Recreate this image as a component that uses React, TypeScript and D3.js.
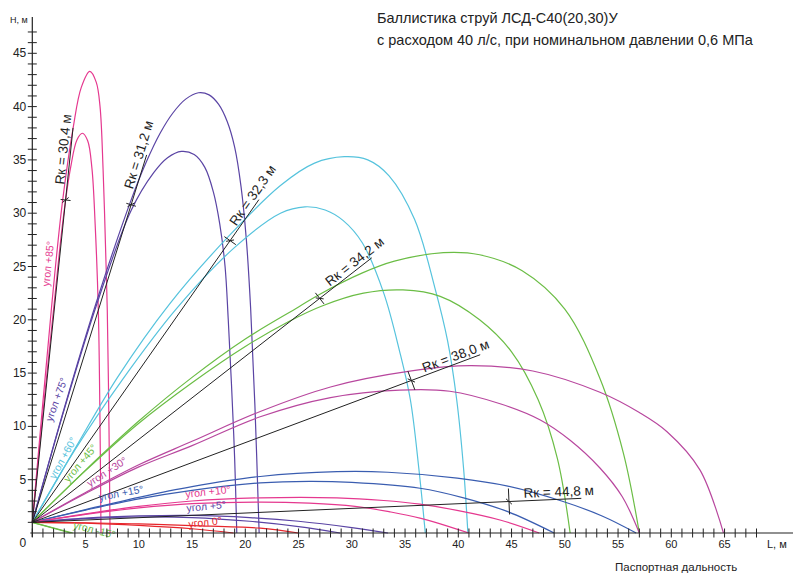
import * as d3 from 'd3';

type Pt = [number, number];

// траектории струй: [L, м ; H, м]
const jet85Far: Pt[] = [[0, 1], [1.8, 21.1], [2.8, 30.8], [3.85, 38.1], [4.6, 41.8], [5.4, 43.3], [6.0, 42.3], [6.36, 40.0], [6.65, 34], [6.9, 26], [7.04, 20.9], [7.2, 10], [7.3, 0]];
const jet85Near: Pt[] = [[0, 1], [1.0, 11.3], [2.0, 21.0], [2.9, 29.5], [3.6, 34.3], [4.2, 36.9], [4.7, 37.5], [5.2, 36.8], [5.6, 34.2], [5.9, 29], [6.2, 20.9], [6.35, 11], [6.45, 0]];
const jet75Far: Pt[] = [[0, 1], [3, 11.7], [6, 21.6], [9.3, 31.3], [10.7, 34.8], [12, 37.5], [13.2, 39.4], [14.4, 40.7], [15.6, 41.3], [16.6, 41.1], [17.5, 40.2], [18.3, 38.6], [19.0, 36.2], [19.6, 32.5], [20.1, 27.5], [20.5, 21.1], [20.9, 12], [21.3, 0]];
const jet75Near: Pt[] = [[0, 1], [3, 11.6], [6, 21.3], [9.3, 30.3], [11.4, 33.8], [12.7, 35.2], [14.0, 35.8], [15.2, 35.5], [16.2, 34.3], [17.0, 32], [17.6, 29], [18.1, 25], [18.4, 20], [18.7, 14], [19.0, 7], [19.2, 0]];
const jet60Far: Pt[] = [[0, 1], [4, 7.9], [8.0, 14.6], [12.9, 21.5], [18.4, 27.8], [23.3, 32.6], [26.5, 34.7], [29.3, 35.3], [31.5, 35.0], [33.5, 33.5], [35.9, 29.4], [37.8, 23], [39.0, 18], [39.85, 12.5], [40.5, 6], [40.9, 0]];
const jet60Near: Pt[] = [[0, 1], [4, 7.8], [8.4, 14.3], [13.5, 21.0], [18.9, 26.7], [23.3, 30.0], [25.6, 30.6], [27.5, 30.3], [29.2, 29.3], [31, 27.2], [33, 22.5], [34.5, 17], [35.5, 12.5], [36.3, 6], [36.9, 0]];
const jet45Far: Pt[] = [[0, 1], [5, 5.9], [10, 10.5], [15, 14.6], [20, 18.2], [25, 21.2], [27, 22.4], [31, 24.4], [34, 25.5], [38.6, 26.3], [42, 26.1], [46, 24.6], [50, 21], [53.3, 14.5], [55.5, 7.5], [57, 0]];
const jet45Near: Pt[] = [[0, 1], [5, 5.85], [10, 10.3], [15, 14.1], [20, 17.5], [24, 19.8], [27.2, 21.3], [31.1, 22.5], [34.8, 22.8], [38.3, 22.2], [42, 20.0], [45, 17], [47.5, 12.5], [49.3, 7], [50.5, 0]];
const jet30Far: Pt[] = [[0, 1], [5, 3.8], [10, 6.4], [15, 8.6], [21.4, 11.4], [28, 13.7], [35.6, 15.2], [41.1, 15.7], [47, 15.2], [53.3, 13.2], [57, 11.3], [59.6, 9.5], [62.7, 5.9], [64.9, 0]];
const jet30Near: Pt[] = [[0, 1], [5, 3.7], [10, 6.2], [15, 8.2], [21.4, 10.9], [28, 12.7], [34.5, 13.4], [39.2, 13.3], [44, 12.1], [47.7, 10.6], [50.5, 8.7], [53.3, 6.1], [55.4, 3.4], [57, 0]];
const jet15Far: Pt[] = [[0, 1], [5, 2.2], [10, 3.35], [15, 4.35], [21.4, 5.3], [28.6, 5.75], [33.4, 5.7], [39.9, 5.15], [44.65, 4.4], [49.7, 3.0], [53.5, 1.6], [56.7, 0]];
const jet15Near: Pt[] = [[0, 1], [5, 2.15], [10, 3.2], [15, 4.0], [21.4, 4.7], [26, 4.85], [30, 4.75], [36.4, 4.2], [40.5, 3.3], [44.65, 2.0], [49, 0]];
const jet10Far: Pt[] = [[0, 1], [5, 1.8], [10, 2.5], [15, 3.0], [21.4, 3.3], [28.6, 3.3], [33, 3.05], [36.4, 2.7], [40, 2.1], [44, 1.2], [47.6, 0]];
const jet10Near: Pt[] = [[0, 1], [5, 1.75], [10, 2.35], [15, 2.75], [21.4, 2.9], [26, 2.8], [30.3, 2.5], [33.5, 2.0], [36.4, 1.4], [41, 0]];
const jet5Far: Pt[] = [[0, 1], [5, 1.4], [10, 1.6], [15, 1.65], [20.4, 1.45], [25, 1.1], [30, 0.5], [33.4, 0]];
const jet5Near: Pt[] = [[0, 1], [5, 1.35], [10, 1.5], [15, 1.45], [20.4, 1.1], [25, 0.6], [28.9, 0]];
const jet0Far: Pt[] = [[0, 1], [5, 0.96], [10, 0.85], [15, 0.7], [21.4, 0.45], [25, 0]];
const jet0Near: Pt[] = [[0, 1], [5, 0.93], [10, 0.72], [15, 0.4], [18.9, 0]];
const jetM15Far: Pt[] = [[0, 1], [3.8, 0]];
const jetM15Near: Pt[] = [[0, 1], [3.6, 0]];

// расстояния Rк
const rkValues = [30.4, 31.2, 32.3, 34.2, 38.0, 44.8];
const rkAngles = [84.1, 72.7, 54.9, 37.9, 20.5, 2.5];
const rkLengths = [37.2, 36.1, 37.0, 40.4, 44.9, 51.6];

const angleNames = ['угол +85°', 'угол +75°', 'угол +60°', 'угол +45°', 'угол +30°', 'угол +15°', 'угол +10°', 'угол +5°', 'угол 0°', 'угол -15°'];

const xTicks = d3.range(0, 69);
const yTicks = d3.range(1, 48);
const xLabels = d3.range(5, 70, 5);
const yLabels = d3.range(5, 50, 5);

const title1 = 'Баллистика струй ЛСД-С40(20,30)У';
const title2 = 'с расходом 40 л/с, при номинальном давлении 0,6 МПа';

const PINK = '#e5388f';
const PURPLE = '#5a44a4';
const CYAN = '#56c3dd';
const GREEN = '#6bbd45';
const ORCHID = '#b8479e';
const BLUE = '#3a5db0';
const RED = '#e6252b';
const INK = '#222';
const FONT = '"Liberation Sans", Arial, sans-serif';

const jets: [Pt[], string][] = [
  [jet85Far, PINK], [jet85Near, PINK],
  [jet75Far, PURPLE], [jet75Near, PURPLE],
  [jet60Far, CYAN], [jet60Near, CYAN],
  [jet45Far, GREEN], [jet45Near, GREEN],
  [jet30Far, ORCHID], [jet30Near, ORCHID],
  [jet15Far, BLUE], [jet15Near, BLUE],
  [jet10Far, PINK], [jet10Near, PINK],
  [jet5Far, PURPLE], [jet5Near, PURPLE],
  [jet0Far, RED], [jet0Near, RED],
  [jetM15Far, GREEN], [jetM15Near, GREEN],
];

// подписи углов: начало (м), поворот, цвет
const angleLabelPos: [number, number, number, string][] = [
  [1.6, 23.1, -84, PINK],
  [1.85, 10.4, -70, PURPLE],
  [2.13, 5.0, -61, CYAN],
  [3.4, 4.7, -50, GREEN],
  [5.4, 4.3, -33, ORCHID],
  [6.3, 3.0, -11, BLUE],
  [14.4, 3.3, -6, PINK],
  [14.5, 2.0, -5, PURPLE],
  [14.7, 0.5, -6, RED],
  [3.8, 0.45, 14, GREEN],
];
const rkTickHalf = [5, 5, 7, 7, 10, 13];

const x = d3.scaleLinear().domain([0, 68]).range([32.3, 32.3 + 68 * 10.65]);
const y = d3.scaleLinear().domain([0, 45]).range([533, 533 - 45 * 10.66]);

const line = d3.line<Pt>()
  .x(d => x(d[0]))
  .y(d => y(d[1]))
  .curve(d3.curveCatmullRom.alpha(0.5));

const NOZZLE: Pt = [0, 1];

const along = (a: number, dist: number): [number, number] => {
  const r = (a * Math.PI) / 180;
  return [x(NOZZLE[0] + dist * Math.cos(r)), y(NOZZLE[1] + dist * Math.sin(r))];
};

const App = () => {
  const x0 = x(0);
  const y0 = y(0);
  return (
    <svg width={793} height={573} style={{ position: 'absolute', left: 0, top: 0, background: '#fff' }} fontFamily={FONT}>
      {/* траектории */}
      {jets.map(([pts, c], i) => (
        <path key={i} d={line(pts) || ''} fill="none" stroke={c} strokeWidth={1.2} />
      ))}

      {/* линии Rк */}
      {rkValues.map((rk, i) => {
        const a = rkAngles[i];
        const r = (a * Math.PI) / 180;
        const [sx, sy] = along(a, 0);
        const [ex, ey] = along(a, rkLengths[i]);
        const [mx, my] = along(a, rk);
        const ux = Math.cos(r), uy = -Math.sin(r);
        const nx = Math.sin(r), ny = Math.cos(r);
        const h = rkTickHalf[i];
        const dx = (ux + nx) / Math.SQRT2, dy = (uy + ny) / Math.SQRT2;
        const [tx, ty] = along(a, rk + 1.4);
        return (
          <g key={i}>
            <line x1={sx} y1={sy} x2={ex} y2={ey} stroke={INK} strokeWidth={1} />
            <line x1={mx - h * nx} y1={my - h * ny} x2={mx + h * nx} y2={my + h * ny} stroke={INK} strokeWidth={1} />
            <line x1={mx - 4 * dx} y1={my - 4 * dy} x2={mx + 4 * dx} y2={my + 4 * dy} stroke={INK} strokeWidth={1} />
            <text
              transform={`translate(${tx - 3 * nx},${ty - 3 * ny}) rotate(${-a})`}
              fontSize={13.5}
              fill={INK}
            >
              {`Rк = ${rk.toFixed(1).replace('.', ',')} м`}
            </text>
          </g>
        );
      })}

      {/* подписи углов */}
      {angleNames.map((t, i) => {
        const [lx, ly, rot, c] = angleLabelPos[i];
        return (
          <text key={t} transform={`translate(${x(lx)},${y(ly)}) rotate(${rot})`} fontSize={10.5} fill={c}>
            {t}
          </text>
        );
      })}

      {/* оси */}
      <line x1={x0 - 2} y1={y0} x2={793} y2={y0} stroke={INK} strokeWidth={1.2} />
      <line x1={x0} y1={y0 + 4} x2={x0} y2={17} stroke={INK} strokeWidth={1.2} />
      {xTicks.map(t => (
        <line key={'xt' + t} x1={x(t)} x2={x(t)} y1={y0 - 4.5} y2={y0 + 4.5} stroke={INK} strokeWidth={1} />
      ))}
      {yTicks.map(t => (
        <line key={'yt' + t} x1={x0 - 4.5} x2={x0 + 4.5} y1={y(t)} y2={y(t)} stroke={INK} strokeWidth={1} />
      ))}
      {xLabels.map(t => (
        <text key={'xl' + t} x={x(t)} y={y0 + 15} textAnchor="middle" fontSize={11} fill={INK}>{t}</text>
      ))}
      {yLabels.map(t => (
        <text key={'yl' + t} x={x0 - 6} y={y(t) + 4} textAnchor="end" fontSize={12} fill={INK}>{t}</text>
      ))}
      <text x={x0 - 6} y={y0 + 14} textAnchor="end" fontSize={12} fill={INK}>0</text>
      <text x={10} y={23} fontSize={9} fill={INK}>Н, м</text>
      <text x={767} y={548} fontSize={11} fill={INK}>L, м</text>
      <text x={615} y={571} fontSize={11.5} fill={INK}>Паспортная дальность</text>

      <text x={377} y={23} fontSize={14.5} fill={INK}>{title1}</text>
      <text x={377} y={45} fontSize={14.5} fill={INK}>{title2}</text>
    </svg>
  );
};

export default App;
